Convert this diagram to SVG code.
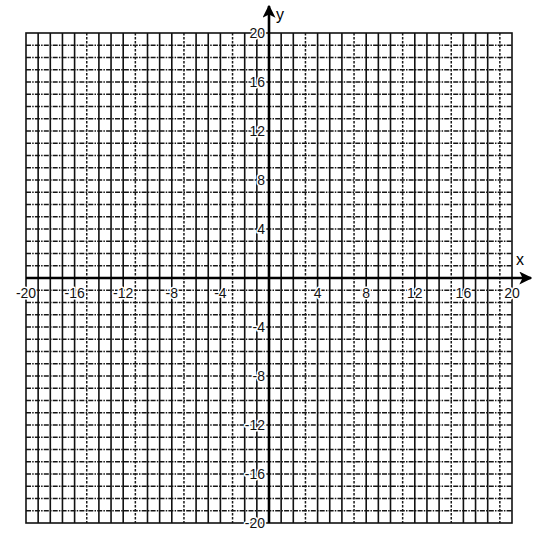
<svg xmlns="http://www.w3.org/2000/svg" width="540" height="533" viewBox="0 0 540 533">
<style>
.v{fill:none;stroke:#111;stroke-width:1.6}
.vd{fill:none;stroke:#1a1a1a;stroke-width:1.5;stroke-dasharray:2.5 1.5}
.h{fill:none;stroke:#161616;stroke-width:1.5;stroke-dasharray:5 1.2 1.5 1.2}
.ax{fill:none;stroke:#000;stroke-width:2.6}
.lbl{font-family:"Liberation Sans",Arial,sans-serif;font-size:14px;fill:#111;stroke:#fff;stroke-width:3;paint-order:stroke;stroke-linejoin:round}
.xl{text-anchor:middle}
.yl{text-anchor:end}
.nm{font-family:"Liberation Sans",Arial,sans-serif;font-size:16px;fill:#000}
</style>
<defs>
<marker id="arr" viewBox="0 0 10 10" refX="9" refY="5" markerWidth="5" markerHeight="5" orient="auto" markerUnits="strokeWidth">
<path d="M0,0 L10,5 L0,10 L2.5,5 Z" fill="#000"/>
</marker>
</defs>
<rect width="540" height="533" fill="#fff"/>
<g id="grid">
<path class="h" d="M26 45.25H512M26 57.5H512M26 69.75H512M26 82H512M26 94.25H512M26 106.5H512M26 118.75H512M26 131H512M26 143.25H512M26 155.5H512M26 167.75H512M26 180H512M26 192.25H512M26 204.5H512M26 216.75H512M26 229H512M26 241.25H512M26 253.5H512M26 265.75H512M26 290.25H512M26 302.5H512M26 314.75H512M26 327H512M26 339.25H512M26 351.5H512M26 363.75H512M26 376H512M26 388.25H512M26 400.5H512M26 412.75H512M26 425H512M26 437.25H512M26 449.5H512M26 461.75H512M26 474H512M26 486.25H512M26 498.5H512M26 510.75H512"/>
<path class="v" d="M38.15 33V523M50.3 33V523M62.45 33V523M74.6 33V523M98.9 33V523M111.05 33V523M123.2 33V523M147.5 33V523M159.65 33V523M171.8 33V523M196.1 33V523M208.25 33V523M220.4 33V523M244.7 33V523M256.85 33V523M281.15 33V523M293.3 33V523M317.6 33V523M329.75 33V523M341.9 33V523M366.2 33V523M378.35 33V523M390.5 33V523M414.8 33V523M426.95 33V523M439.1 33V523M463.4 33V523M475.55 33V523M487.7 33V523"/>
<path class="vd" d="M86.75 33V523M135.35 33V523M183.95 33V523M232.55 33V523M305.45 33V523M354.05 33V523M402.65 33V523M451.25 33V523M499.85 33V523"/>
<rect x="26" y="33" width="486" height="490" fill="none" stroke="#111" stroke-width="1.6"/>
</g>
<g id="axes">
<line class="ax" x1="26" y1="278" x2="531" y2="278" marker-end="url(#arr)"/>
<line class="ax" x1="269" y1="523" x2="269" y2="6" marker-end="url(#arr)"/>
<text class="nm" x="516" y="265">x</text>
<text class="nm" x="276" y="20">y</text>
</g>
<g id="x-labels" class="lbl xl">
<text x="26" y="298">-20</text>
<text x="74.6" y="298">-16</text>
<text x="123.2" y="298">-12</text>
<text x="171.8" y="298">-8</text>
<text x="220.4" y="298">-4</text>
<text x="317.6" y="298">4</text>
<text x="366.2" y="298">8</text>
<text x="414.8" y="298">12</text>
<text x="463.4" y="298">16</text>
<text x="512" y="298">20</text>
</g>
<g id="y-labels" class="lbl yl">
<text x="265" y="38">20</text>
<text x="265" y="87">16</text>
<text x="265" y="136">12</text>
<text x="265" y="185">8</text>
<text x="265" y="234">4</text>
<text x="265" y="332">-4</text>
<text x="265" y="381">-8</text>
<text x="265" y="430">-12</text>
<text x="265" y="479">-16</text>
<text x="265" y="528">-20</text>
</g>
</svg>
